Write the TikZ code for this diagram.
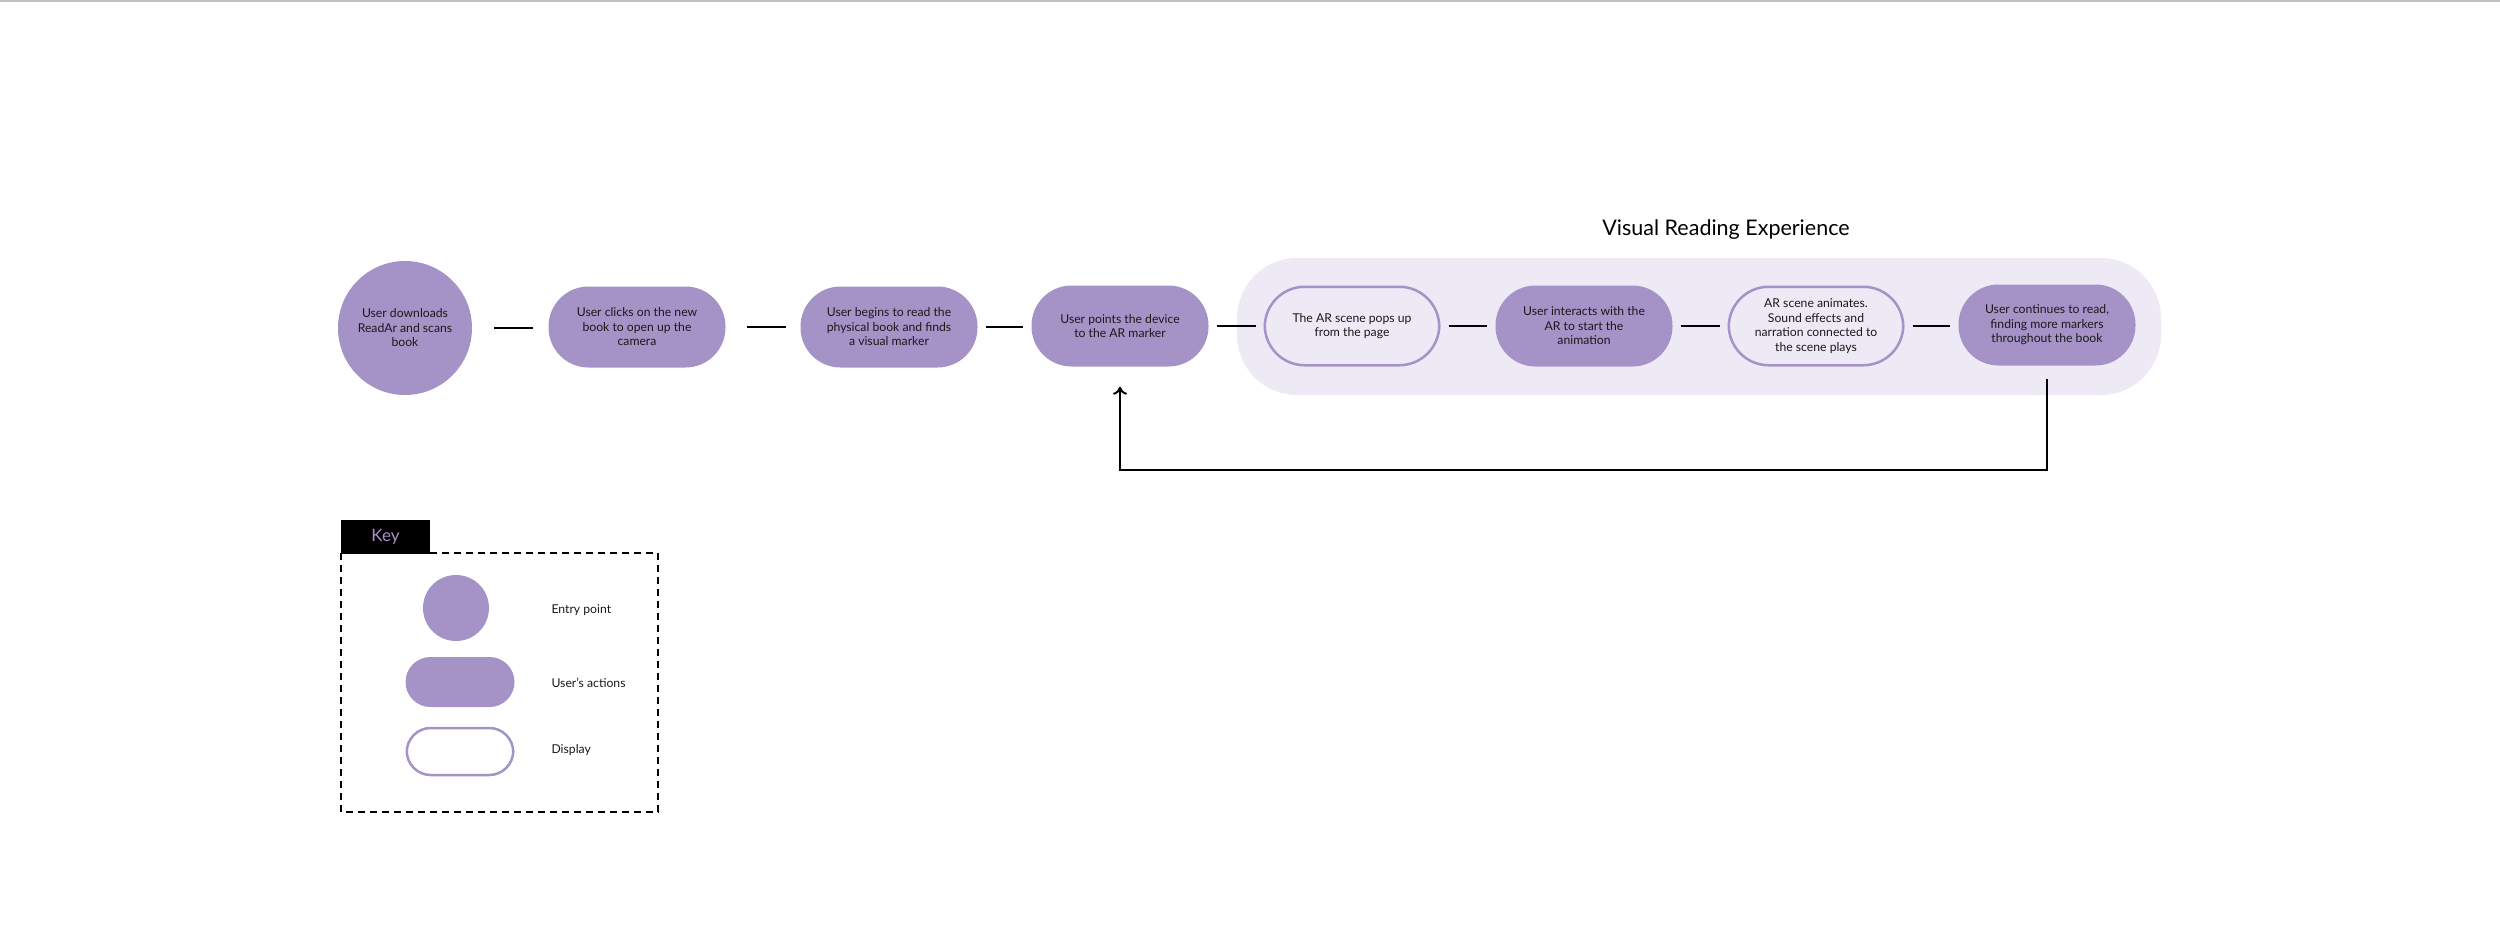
\documentclass[tikz,border=0pt]{standalone}
\usepackage{fontspec}
\setmainfont{Lato}
\usetikzlibrary{arrows.meta}
\definecolor{lilac}{RGB}{165,147,200}
\definecolor{haze}{RGB}{237,233,245}
\definecolor{rule}{RGB}{192,192,192}

\begin{document}
\begin{tikzpicture}[x=1pt, y=-1pt,
    txt/.style={align=center, text=black!90, font=\fontsize{12.2}{14.5}\selectfont},
    entry/.style={txt, circle, fill=lilac, minimum size=134pt, inner sep=0pt},
    action/.style={txt, rectangle, rounded corners=40pt, fill=lilac, minimum width=177pt, minimum height=81pt, inner sep=0pt},
    display/.style={action, fill=none, draw=lilac, line width=2.5pt, minimum width=174.5pt, minimum height=78.5pt},
    link/.style={line width=2.5pt},
    keytxt/.style={anchor=west, text=black!90, font=\fontsize{12.2}{14}\selectfont}]
        \useasboundingbox (0,0) rectangle (2500,940);
        \draw[rule, line width=2pt] (0,1) -- (2500,1);

        % shaded area for the AR part
        \node[fill=haze, rounded corners=60pt, minimum width=924pt, minimum height=137pt] (panel) at (1699,326.5) {};
        \node[font=\fontsize{21.5}{24}\selectfont] (title) at (1726,229.5) {Visual Reading Experience};

        \node[entry] (s1) at (405,328) {User downloads\\ReadAr and scans\\book};
        \node[action] (s2) at (637,327) {User clicks on the new\\book to open up the\\camera};
        \node[action] (s3) at (889,327) {User begins to read the\\physical book and finds\\a visual marker};
        \node[action] (s4) at (1120,326) {User points the device\\to the AR marker};
        \node[display] (s5) at (1352,326) {The AR scene pops up\\from the page};
        \node[action] (s6) at (1584,326) {User interacts with the\\AR to start the\\animation};
        \node[display] (s7) at (1816,326) {AR scene animates.\\Sound effects and\\narration connected to\\the scene plays};
        \node[action] (s8) at (2047,325) {User continues to read,\\finding more markers\\throughout the book};

        \draw[link, shorten <=22pt, shorten >=15pt] (s1.east) -- (s1.east -| s2.west);
        \draw[link, shorten <=21pt, shorten >=14pt] (s2.east) -- (s2.east -| s3.west);
        \draw[link, shorten <=8pt, shorten >=8pt] (s3.east) -- (s3.east -| s4.west);
        \draw[link, shorten <=8pt, shorten >=8pt] (s4.east) -- (s4.east -| s5.west);
        \draw[link, shorten <=8pt, shorten >=8pt] (s5.east) -- (s5.east -| s6.west);
        \draw[link, shorten <=8pt, shorten >=8pt] (s6.east) -- (s6.east -| s7.west);
        \draw[link, shorten <=8pt, shorten >=8pt] (s7.east) -- (s7.east -| s8.west);

        % back to pointing at the next marker
        \coordinate (back) at (1580,470);
        \draw[line width=2pt, -{To[length=8pt, width=14pt]}, shorten <=13pt, shorten >=20pt] (s8.south) |- (back) -| (s4.south);

        % key
        \draw[line width=2.5pt, dash pattern=on 7pt off 5pt] (341,553) rectangle (658,812);
        \node[fill=black, minimum width=89pt, minimum height=34pt, text=lilac, font=\fontsize{17}{19}\selectfont] (keytag) at (385.5,536.5) {Key};

        \node[circle, fill=lilac, minimum size=66pt, inner sep=0pt] (kentry) at (456,608) {};
        \node[rectangle, rounded corners=25pt, fill=lilac, minimum width=109pt, minimum height=50pt] (kaction) at (460,682) {};
        \node[rectangle, rounded corners=24pt, fill=white, draw=lilac, line width=2.5pt, minimum width=106.5pt, minimum height=47pt] (kdisplay) at (460,751.5) {};

        \node[keytxt] (lentry) at (548,610) {Entry point};
        \node[keytxt] (laction) at (548,683) {User’s actions};
        \node[keytxt] (ldisplay) at (548,750) {Display};
      \end{tikzpicture}
\end{document}
